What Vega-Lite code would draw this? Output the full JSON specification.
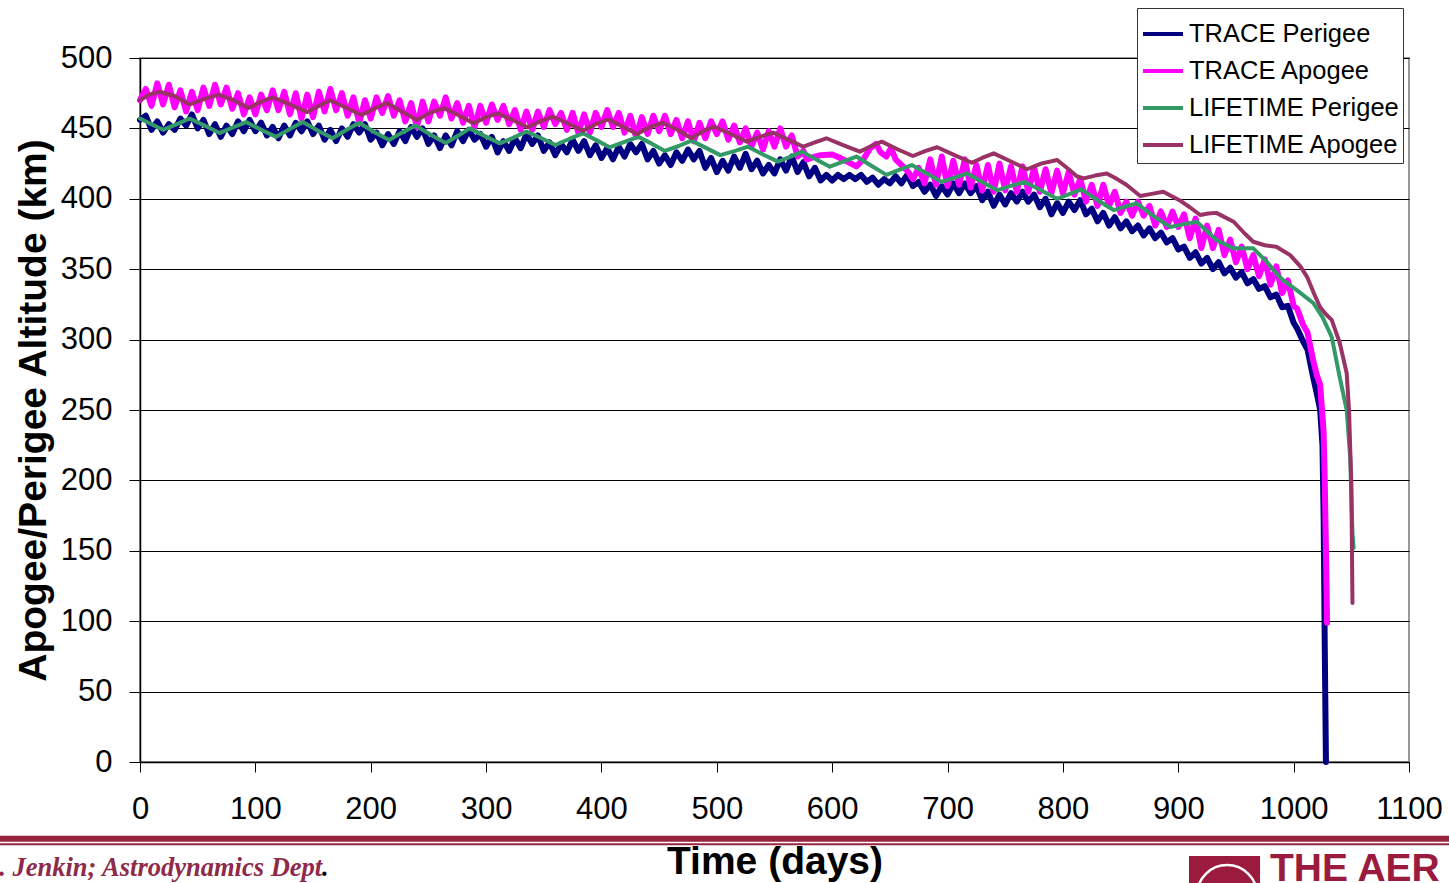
{
"$schema": "https://vega.github.io/schema/vega-lite/v6.json",
"width": 1269, "height": 704,
"autosize": {"type": "none"},
"padding": {"left": 140, "top": 58, "right": 40, "bottom": 121},
"background": "white",
"config": {"view": {"stroke": "#999999", "strokeWidth": 2}, "font": "Liberation Sans"},
"datasets": {
"tp": [{"day":0,"km":456},{"day":5,"km":459},{"day":10,"km":449},{"day":15,"km":455},{"day":20,"km":447},{"day":25,"km":453},{"day":30,"km":449},{"day":35,"km":457},{"day":40,"km":452},{"day":45,"km":460},{"day":50,"km":450},{"day":55,"km":456},{"day":60,"km":446},{"day":65,"km":453},{"day":70,"km":444},{"day":75,"km":452},{"day":80,"km":446},{"day":85,"km":455},{"day":90,"km":448},{"day":95,"km":456},{"day":100,"km":448},{"day":105,"km":454},{"day":110,"km":445},{"day":115,"km":451},{"day":120,"km":443},{"day":125,"km":452},{"day":130,"km":445},{"day":135,"km":454},{"day":140,"km":448},{"day":145,"km":455},{"day":150,"km":446},{"day":155,"km":452},{"day":160,"km":442},{"day":165,"km":449},{"day":170,"km":441},{"day":175,"km":450},{"day":180,"km":444},{"day":185,"km":453},{"day":190,"km":447},{"day":195,"km":453},{"day":200,"km":442},{"day":205,"km":447},{"day":210,"km":438},{"day":215,"km":446},{"day":220,"km":439},{"day":225,"km":448},{"day":230,"km":441},{"day":235,"km":451},{"day":240,"km":444},{"day":245,"km":450},{"day":250,"km":439},{"day":255,"km":445},{"day":260,"km":436},{"day":265,"km":445},{"day":270,"km":438},{"day":275,"km":448},{"day":280,"km":441},{"day":285,"km":449},{"day":290,"km":442},{"day":295,"km":446},{"day":300,"km":437},{"day":305,"km":444},{"day":310,"km":433},{"day":315,"km":441},{"day":320,"km":434},{"day":325,"km":443},{"day":330,"km":436},{"day":335,"km":446},{"day":340,"km":439},{"day":345,"km":445},{"day":350,"km":434},{"day":355,"km":440},{"day":360,"km":431},{"day":365,"km":439},{"day":370,"km":433},{"day":375,"km":442},{"day":380,"km":434},{"day":385,"km":441},{"day":390,"km":431},{"day":395,"km":438},{"day":400,"km":429},{"day":405,"km":436},{"day":410,"km":428},{"day":415,"km":437},{"day":420,"km":430},{"day":425,"km":439},{"day":430,"km":433},{"day":435,"km":439},{"day":440,"km":428},{"day":445,"km":434},{"day":450,"km":425},{"day":455,"km":431},{"day":460,"km":424},{"day":465,"km":433},{"day":470,"km":427},{"day":475,"km":435},{"day":480,"km":428},{"day":485,"km":434},{"day":490,"km":422},{"day":495,"km":429},{"day":500,"km":419},{"day":505,"km":427},{"day":510,"km":420},{"day":515,"km":430},{"day":520,"km":422},{"day":525,"km":432},{"day":530,"km":421},{"day":535,"km":427},{"day":540,"km":418},{"day":545,"km":424},{"day":550,"km":418},{"day":555,"km":428},{"day":560,"km":420},{"day":565,"km":430},{"day":570,"km":419},{"day":575,"km":426},{"day":580,"km":416},{"day":585,"km":422},{"day":590,"km":413},{"day":595,"km":417},{"day":600,"km":413},{"day":605,"km":417},{"day":610,"km":414},{"day":615,"km":417},{"day":620,"km":414},{"day":625,"km":417},{"day":630,"km":412},{"day":635,"km":415},{"day":640,"km":410},{"day":645,"km":414},{"day":650,"km":411},{"day":655,"km":416},{"day":660,"km":411},{"day":665,"km":417},{"day":670,"km":409},{"day":675,"km":412},{"day":680,"km":405},{"day":685,"km":410},{"day":690,"km":402},{"day":695,"km":409},{"day":700,"km":403},{"day":705,"km":411},{"day":710,"km":404},{"day":715,"km":411},{"day":720,"km":404},{"day":725,"km":409},{"day":730,"km":399},{"day":735,"km":405},{"day":740,"km":395},{"day":745,"km":403},{"day":750,"km":396},{"day":755,"km":404},{"day":760,"km":398},{"day":765,"km":405},{"day":770,"km":398},{"day":775,"km":403},{"day":780,"km":394},{"day":785,"km":400},{"day":790,"km":389},{"day":795,"km":397},{"day":800,"km":390},{"day":805,"km":398},{"day":810,"km":392},{"day":815,"km":399},{"day":820,"km":389},{"day":825,"km":393},{"day":830,"km":384},{"day":835,"km":390},{"day":840,"km":381},{"day":845,"km":387},{"day":850,"km":379},{"day":855,"km":384},{"day":860,"km":377},{"day":865,"km":381},{"day":870,"km":374},{"day":875,"km":379},{"day":880,"km":372},{"day":885,"km":376},{"day":890,"km":369},{"day":895,"km":372},{"day":900,"km":364},{"day":905,"km":366},{"day":910,"km":358},{"day":915,"km":362},{"day":920,"km":354},{"day":925,"km":358},{"day":930,"km":350},{"day":935,"km":355},{"day":940,"km":347},{"day":945,"km":351},{"day":950,"km":344},{"day":955,"km":348},{"day":960,"km":340},{"day":965,"km":343},{"day":970,"km":336},{"day":975,"km":338},{"day":980,"km":330},{"day":985,"km":332},{"day":990,"km":323},{"day":995,"km":324},{"day":1000,"km":312},{"day":1003,"km":308},{"day":1008,"km":299},{"day":1012,"km":293},{"day":1017,"km":273},{"day":1020,"km":262},{"day":1023,"km":250},{"day":1025,"km":225},{"day":1026,"km":174},{"day":1027,"km":80},{"day":1028,"km":0}],
"ta": [{"day":0,"km":470},{"day":5,"km":478},{"day":10,"km":466},{"day":15,"km":482},{"day":20,"km":467},{"day":25,"km":481},{"day":30,"km":465},{"day":35,"km":477},{"day":40,"km":462},{"day":45,"km":476},{"day":50,"km":463},{"day":55,"km":479},{"day":60,"km":466},{"day":65,"km":481},{"day":70,"km":467},{"day":75,"km":479},{"day":80,"km":464},{"day":85,"km":475},{"day":90,"km":460},{"day":95,"km":472},{"day":100,"km":460},{"day":105,"km":474},{"day":110,"km":463},{"day":115,"km":477},{"day":120,"km":463},{"day":125,"km":476},{"day":130,"km":460},{"day":135,"km":475},{"day":140,"km":457},{"day":145,"km":474},{"day":150,"km":458},{"day":155,"km":476},{"day":160,"km":462},{"day":165,"km":478},{"day":170,"km":463},{"day":175,"km":475},{"day":180,"km":459},{"day":185,"km":472},{"day":190,"km":454},{"day":195,"km":470},{"day":200,"km":457},{"day":205,"km":472},{"day":210,"km":461},{"day":215,"km":473},{"day":220,"km":459},{"day":225,"km":470},{"day":230,"km":455},{"day":235,"km":468},{"day":240,"km":451},{"day":245,"km":469},{"day":250,"km":455},{"day":255,"km":469},{"day":260,"km":459},{"day":265,"km":472},{"day":270,"km":457},{"day":275,"km":468},{"day":280,"km":454},{"day":285,"km":466},{"day":290,"km":451},{"day":295,"km":466},{"day":300,"km":454},{"day":305,"km":467},{"day":310,"km":456},{"day":315,"km":466},{"day":320,"km":453},{"day":325,"km":463},{"day":330,"km":449},{"day":335,"km":462},{"day":340,"km":449},{"day":345,"km":462},{"day":350,"km":451},{"day":355,"km":463},{"day":360,"km":453},{"day":365,"km":461},{"day":370,"km":449},{"day":375,"km":461},{"day":380,"km":447},{"day":385,"km":460},{"day":390,"km":447},{"day":395,"km":461},{"day":400,"km":451},{"day":405,"km":463},{"day":410,"km":451},{"day":415,"km":461},{"day":420,"km":447},{"day":425,"km":459},{"day":430,"km":444},{"day":435,"km":458},{"day":440,"km":446},{"day":445,"km":459},{"day":450,"km":448},{"day":455,"km":459},{"day":460,"km":446},{"day":465,"km":456},{"day":470,"km":443},{"day":475,"km":455},{"day":480,"km":441},{"day":485,"km":454},{"day":490,"km":443},{"day":495,"km":455},{"day":500,"km":446},{"day":505,"km":455},{"day":510,"km":442},{"day":515,"km":452},{"day":520,"km":440},{"day":525,"km":450},{"day":530,"km":437},{"day":535,"km":447},{"day":540,"km":435},{"day":545,"km":448},{"day":550,"km":437},{"day":555,"km":450},{"day":560,"km":437},{"day":565,"km":445},{"day":570,"km":430},{"day":575,"km":434},{"day":578,"km":428},{"day":585,"km":430},{"day":590,"km":431},{"day":600,"km":431.5},{"day":607,"km":429},{"day":614,"km":426},{"day":621,"km":423},{"day":627,"km":428},{"day":633,"km":436},{"day":638,"km":439},{"day":642,"km":433},{"day":647,"km":430},{"day":651,"km":436},{"day":655,"km":428},{"day":660,"km":424},{"day":665,"km":420},{"day":670,"km":414},{"day":675,"km":422},{"day":680,"km":411},{"day":685,"km":428},{"day":690,"km":410},{"day":695,"km":430},{"day":700,"km":409},{"day":705,"km":427},{"day":710,"km":410},{"day":715,"km":428},{"day":720,"km":408},{"day":725,"km":424},{"day":730,"km":406},{"day":735,"km":424},{"day":740,"km":405},{"day":745,"km":425},{"day":750,"km":406},{"day":755,"km":423},{"day":760,"km":405},{"day":765,"km":423},{"day":770,"km":405},{"day":775,"km":422},{"day":780,"km":405},{"day":785,"km":421},{"day":790,"km":404},{"day":795,"km":420},{"day":800,"km":404},{"day":805,"km":419},{"day":810,"km":403},{"day":815,"km":414},{"day":820,"km":398},{"day":825,"km":410},{"day":830,"km":395},{"day":835,"km":410},{"day":840,"km":395},{"day":845,"km":405},{"day":850,"km":390},{"day":855,"km":398},{"day":860,"km":388},{"day":865,"km":398},{"day":870,"km":388},{"day":875,"km":395},{"day":880,"km":381},{"day":885,"km":391},{"day":890,"km":380},{"day":895,"km":391},{"day":900,"km":380},{"day":905,"km":389},{"day":910,"km":372},{"day":915,"km":386},{"day":920,"km":365},{"day":925,"km":381},{"day":930,"km":365},{"day":935,"km":378},{"day":940,"km":360},{"day":945,"km":371},{"day":950,"km":355},{"day":955,"km":366},{"day":960,"km":350},{"day":965,"km":360},{"day":970,"km":345},{"day":975,"km":357},{"day":980,"km":339},{"day":985,"km":352},{"day":990,"km":333},{"day":995,"km":342},{"day":1000,"km":324},{"day":1003,"km":322},{"day":1008,"km":311},{"day":1012,"km":305},{"day":1017,"km":285},{"day":1020,"km":275},{"day":1023,"km":268},{"day":1026,"km":234},{"day":1027,"km":198},{"day":1028,"km":151},{"day":1029,"km":99}],
"lp": [{"day":0,"km":457},{"day":10,"km":453},{"day":20,"km":449},{"day":32,"km":453},{"day":43,"km":457},{"day":56,"km":452},{"day":69,"km":446.7},{"day":80,"km":450.5},{"day":92,"km":454.5},{"day":105,"km":449},{"day":118,"km":444},{"day":130,"km":449.5},{"day":141,"km":454.5},{"day":154,"km":448.5},{"day":167,"km":443},{"day":178,"km":448.5},{"day":190,"km":454},{"day":203,"km":447.5},{"day":216,"km":441.8},{"day":227,"km":447},{"day":239,"km":452},{"day":252,"km":445.5},{"day":265,"km":439.6},{"day":276,"km":445},{"day":286,"km":450},{"day":299,"km":444.5},{"day":312,"km":439.4},{"day":324,"km":443.5},{"day":335,"km":447.7},{"day":348,"km":443},{"day":360,"km":438.2},{"day":372,"km":442.5},{"day":384,"km":446.5},{"day":396,"km":441.5},{"day":407,"km":436.6},{"day":420,"km":440.5},{"day":432,"km":444},{"day":444,"km":439},{"day":455,"km":434},{"day":467,"km":437.5},{"day":478,"km":441.3},{"day":491,"km":436},{"day":503,"km":431},{"day":516,"km":434},{"day":527,"km":437},{"day":540,"km":431.5},{"day":553,"km":426.4},{"day":564,"km":430},{"day":574,"km":433.5},{"day":586,"km":428},{"day":598,"km":422.8},{"day":610,"km":426.5},{"day":621,"km":430},{"day":634,"km":423.5},{"day":647,"km":417},{"day":658,"km":420.5},{"day":669,"km":424},{"day":682,"km":418},{"day":695,"km":412},{"day":706,"km":415},{"day":717,"km":418},{"day":730,"km":412},{"day":743,"km":406},{"day":754,"km":409},{"day":767,"km":412},{"day":781,"km":406},{"day":795,"km":400},{"day":806,"km":403.5},{"day":816,"km":406.7},{"day":830,"km":399},{"day":844,"km":392},{"day":854,"km":394.5},{"day":864,"km":396.8},{"day":878,"km":388},{"day":893,"km":380},{"day":905,"km":382},{"day":916,"km":383.7},{"day":925,"km":377},{"day":933,"km":370.7},{"day":948,"km":364.8},{"day":965,"km":364.8},{"day":977,"km":355},{"day":985,"km":347},{"day":991,"km":342},{"day":1003,"km":335},{"day":1017,"km":326},{"day":1025,"km":316},{"day":1033,"km":302},{"day":1040,"km":273},{"day":1046,"km":250},{"day":1049,"km":216.6},{"day":1051,"km":162.6},{"day":1052,"km":152}],
"la": [{"day":0,"km":470},{"day":8,"km":474},{"day":17,"km":476},{"day":30,"km":473},{"day":43,"km":467},{"day":56,"km":471},{"day":68,"km":474},{"day":81,"km":470},{"day":94,"km":464.5},{"day":105,"km":469},{"day":115,"km":472},{"day":130,"km":467},{"day":145,"km":461.6},{"day":155,"km":466},{"day":165,"km":470},{"day":178,"km":465},{"day":192,"km":459.5},{"day":203,"km":464},{"day":214,"km":468},{"day":227,"km":462},{"day":240,"km":456},{"day":251,"km":461},{"day":264,"km":464.3},{"day":277,"km":459},{"day":289,"km":453.6},{"day":300,"km":458},{"day":310,"km":460.7},{"day":323,"km":456},{"day":336,"km":450.8},{"day":347,"km":455},{"day":358,"km":458.3},{"day":371,"km":453.5},{"day":384,"km":448.4},{"day":395,"km":453},{"day":406,"km":456.4},{"day":419,"km":451},{"day":431,"km":446},{"day":442,"km":451},{"day":453,"km":454},{"day":466,"km":449},{"day":478,"km":443},{"day":488,"km":448},{"day":498,"km":451.2},{"day":512,"km":446},{"day":526,"km":440.6},{"day":537,"km":444},{"day":549,"km":447},{"day":562,"km":442},{"day":575,"km":437},{"day":585,"km":440},{"day":595,"km":443},{"day":610,"km":438},{"day":624,"km":433.5},{"day":634,"km":437.5},{"day":643,"km":440.6},{"day":657,"km":435},{"day":670,"km":430.4},{"day":681,"km":434},{"day":691,"km":436.6},{"day":706,"km":431},{"day":721,"km":425.6},{"day":730,"km":429},{"day":740,"km":432.3},{"day":755,"km":426.5},{"day":769,"km":421},{"day":781,"km":425},{"day":795,"km":427.6},{"day":805,"km":421},{"day":812,"km":416},{"day":818,"km":414.5},{"day":828,"km":416.5},{"day":838,"km":418},{"day":847,"km":414},{"day":855,"km":410},{"day":867,"km":402},{"day":877,"km":403.5},{"day":887,"km":405},{"day":901,"km":399},{"day":910,"km":394},{"day":919,"km":388.5},{"day":926,"km":389.5},{"day":933,"km":390},{"day":948,"km":383.7},{"day":958,"km":375},{"day":965,"km":369.5},{"day":975,"km":367},{"day":985,"km":366},{"day":997,"km":360},{"day":1006,"km":351.8},{"day":1012,"km":344},{"day":1018,"km":332},{"day":1023,"km":323},{"day":1028,"km":318},{"day":1033,"km":314},{"day":1040,"km":297.6},{"day":1046,"km":276},{"day":1048,"km":250},{"day":1050,"km":198},{"day":1051,"km":113}]
},
"layer": [
{
"data": {"name": "tp"},
"mark": {"type": "line", "strokeWidth": 6, "strokeJoin": "round", "strokeCap": "round"},
"encoding": {
"x": {"field": "day", "type": "quantitative", "scale": {"domain": [0, 1100], "nice": false, "zero": false},
"axis": {"values": [0,100,200,300,400,500,600,700,800,900,1000,1100], "format": "d", "grid": false, "domainColor": "#000", "domainWidth": 1.5, "tickColor": "#000", "tickSize": 10, "labelFontSize": 31, "labelColor": "#000", "labelPadding": 22, "labelFlush": false, "labelOverlap": false, "title": "Time (days)", "titleFontSize": 39, "titleFontWeight": "bold", "titleColor": "#000", "titlePadding": 18}},
"y": {"field": "km", "type": "quantitative", "scale": {"domain": [0, 500], "nice": false},
"axis": {"values": [0,50,100,150,200,250,300,350,400,450,500], "grid": true, "gridColor": "#000", "gridWidth": 1, "domainColor": "#000", "domainWidth": 1.5, "tickColor": "#000", "tickSize": 11, "labelFontSize": 31, "labelColor": "#000", "labelPadding": 17, "labelFlush": false, "labelOverlap": false, "title": "Apogee/Perigee Altitude (km)", "titleFontSize": 39, "titleFontWeight": "bold", "titleColor": "#000", "titlePadding": 7}},
"color": {"datum": "TRACE Perigee", "type": "nominal",
"scale": {"domain": ["TRACE Perigee", "TRACE Apogee", "LIFETIME Perigee", "LIFETIME Apogee"], "range": ["#000080", "#FF00FF", "#339966", "#993366"]},
"legend": {"title": null, "orient": "none", "legendX": 997, "legendY": -50, "fillColor": "white", "strokeColor": "#333333", "padding": 4, "rowPadding": 1, "symbolType": "stroke", "symbolSize": 1600, "symbolStrokeWidth": 4, "labelFontSize": 25.5, "labelFont": "Liberation Sans", "labelColor": "#000", "labelOffset": 4, "labelLimit": 400}}
}
},
{
"data": {"name": "ta"},
"mark": {"type": "line", "strokeWidth": 6, "strokeJoin": "round", "strokeCap": "round"},
"encoding": {"x": {"field": "day", "type": "quantitative"}, "y": {"field": "km", "type": "quantitative"}, "color": {"datum": "TRACE Apogee", "type": "nominal"}}
},
{
"data": {"name": "lp"},
"mark": {"type": "line", "strokeWidth": 4, "strokeJoin": "round", "strokeCap": "round"},
"encoding": {"x": {"field": "day", "type": "quantitative"}, "y": {"field": "km", "type": "quantitative"}, "color": {"datum": "LIFETIME Perigee", "type": "nominal"}}
},
{
"data": {"name": "la"},
"mark": {"type": "line", "strokeWidth": 4, "strokeJoin": "round", "strokeCap": "round"},
"encoding": {"x": {"field": "day", "type": "quantitative"}, "y": {"field": "km", "type": "quantitative"}, "color": {"datum": "LIFETIME Apogee", "type": "nominal"}}
},
{
"data": {"values": [{}]},
"mark": {"type": "rule", "color": "#98233F", "strokeWidth": 6, "clip": false},
"encoding": {"x": {"datum": -125}, "x2": {"datum": 1140}, "y": {"datum": -54.5}}
},
{
"data": {"values": [{}]},
"mark": {"type": "rule", "color": "#98233F", "strokeWidth": 2, "clip": false},
"encoding": {"x": {"datum": -125}, "x2": {"datum": 1140}, "y": {"datum": -58.5}}
},
{
"data": {"values": [{}]},
"mark": {"type": "text", "align": "left", "baseline": "alphabetic", "font": "Liberation Serif", "fontStyle": "italic", "fontWeight": "bold", "fontSize": 26.5, "color": "#8E2A4A", "clip": false, "text": ". Jenkin; Astrodynamics Dept"},
"encoding": {"x": {"datum": -122}, "y": {"datum": -81}}
},
{
"data": {"values": [{}]},
"mark": {"type": "text", "align": "left", "baseline": "alphabetic", "font": "Liberation Serif", "fontStyle": "italic", "fontWeight": "bold", "fontSize": 26.5, "color": "#000000", "clip": false, "text": "."},
"encoding": {"x": {"datum": 157.8}, "y": {"datum": -81}}
},
{
"data": {"values": [{}]},
"mark": {"type": "rect", "color": "#9B1B3E", "clip": false},
"encoding": {"x": {"datum": 909.3}, "x2": {"datum": 970.9}, "y": {"datum": -66.8}, "y2": {"datum": -95}}
},
{
"data": {"values": [{}]},
"mark": {"type": "point", "shape": "circle", "size": 3600, "filled": false, "stroke": "white", "strokeWidth": 2.5, "opacity": 1, "clip": false},
"encoding": {"x": {"datum": 942.3}, "y": {"datum": -94.5}}
},
{
"data": {"values": [{}]},
"mark": {"type": "text", "align": "left", "baseline": "alphabetic", "font": "Liberation Sans", "fontWeight": "bold", "fontSize": 39, "color": "#9B1B3E", "clip": false, "text": "THE AER"},
"encoding": {"x": {"datum": 979.5}, "y": {"datum": -84.6}}
}
]
}
